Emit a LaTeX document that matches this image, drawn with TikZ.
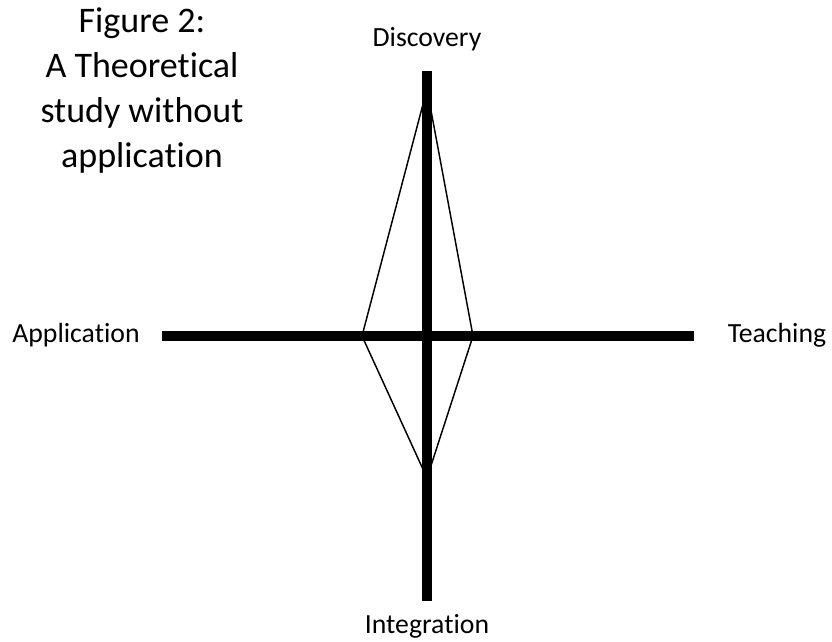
\documentclass[tikz,border=0pt]{standalone}
\usepackage{fontspec}
\setmainfont{Carlito}[Ligatures=NoCommon]
\begin{document}
\begin{tikzpicture}[x=0.75pt,y=-0.75pt,line join=miter,
    axis/.style={line width=7.8pt},
    kite/.style={line width=1.1pt},
    lab/.style={anchor=base,inner sep=0pt,font=\fontsize{20.8pt}{24pt}\selectfont}]
  \useasboundingbox (0,0) rectangle (832,642);
  % axis ends and labels
  \coordinate (top) at (427,71);
  \coordinate (bot) at (427,601);
  \coordinate (lft) at (162,336);
  \coordinate (rgt) at (694,336);
  \node[lab] (disc) at (427,47) {Discovery};
  \node[lab] (integ) at (427,633) {Integration};
  \node[lab] (appl) at (76,342) {Application};
  \node[lab] (teach) at (777,342) {Teaching};
  % kite
  \coordinate (kt) at (427,89);
  \coordinate (kl) at (362,336);
  \coordinate (kr) at (473,336);
  \coordinate (kb) at (427,478);
  \draw[kite] (kt) -- (kr) -- (kb) -- (kl) -- cycle;
  \draw[axis] (lft) -- (rgt);
  \draw[axis] (top) -- (bot);
  % title
  \node[anchor=north,align=center,inner sep=0pt,
        font=\fontsize{27pt}{33.75pt}\selectfont] (title) at (142,7)
    {Figure 2:\\A Theoretical\\study without\\application};
\end{tikzpicture}
\end{document}
